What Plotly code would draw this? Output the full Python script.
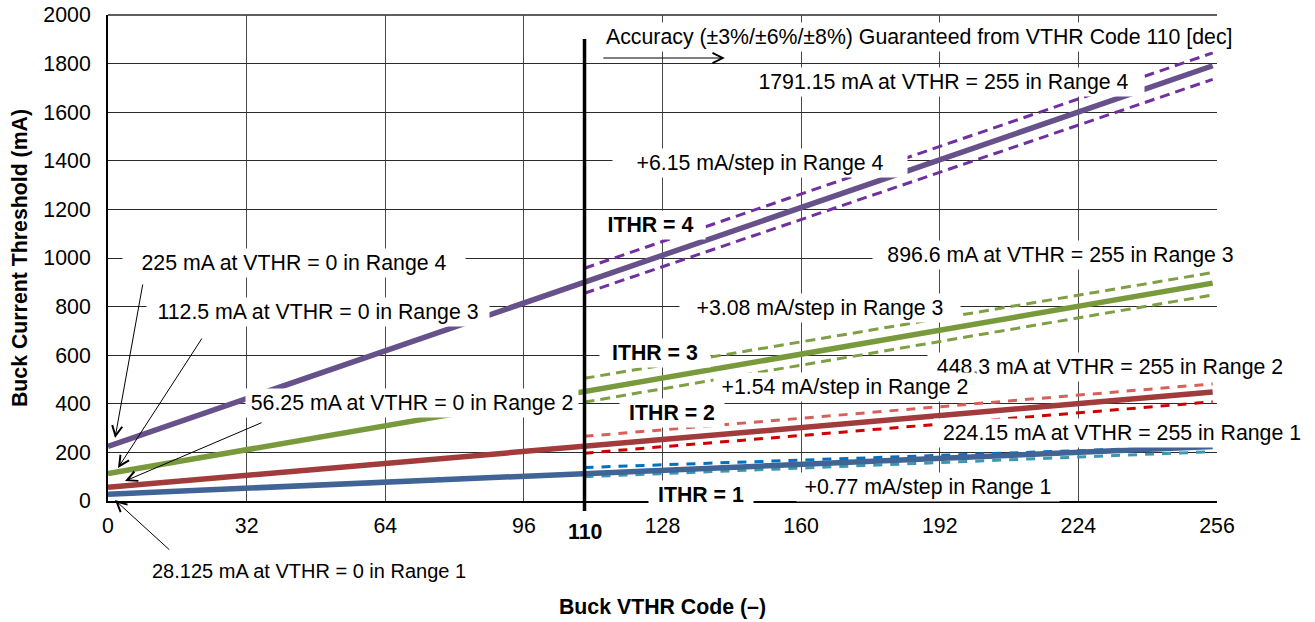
import plotly.graph_objects as go

# ---------------- data ----------------
x_full = [0, 255]
range1 = [28.125, 224.15]
range2 = [56.25, 448.3]
range3 = [112.5, 896.6]
range4 = [225, 1791.15]

x_acc = [110, 255]
range4_hi = [958, 1844]
range4_lo = [855, 1735]
range3_hi = [505, 940]
range3_lo = [407, 848]
range2_hi = [266, 482]
range2_lo = [197, 408]
range1_hi = [138, 226]
range1_lo = [100, 203]

x_ticks = [0, 32, 64, 96, 128, 160, 192, 224, 256]
y_ticks = list(range(0, 2001, 200))

FONT = "Arial, 'Liberation Sans', sans-serif"
FS = 21.3
GRID_H = "#2a2a2a"
GRID_V = "#4a4a4a"

fig = go.Figure()

# dashed accuracy bands
bands = [
    (range4_hi, "#7030A0", "10px,6px"),
    (range4_lo, "#7030A0", "10px,6px"),
    (range3_hi, "#7F9F45", "10px,6px"),
    (range3_lo, "#7F9F45", "10px,6px"),
    (range2_hi, "#D9605A", "9px,8px"),
    (range2_lo, "#D00000", "9px,8px"),
    (range1_hi, "#0070C0", "9px,8px"),
    (range1_lo, "#3C98B0", "9px,8px"),
]
for ys, col, dash in bands:
    fig.add_trace(go.Scatter(x=x_acc, y=ys, mode="lines",
                             line=dict(color=col, width=3, dash=dash),
                             showlegend=False, hoverinfo="skip"))

# solid typical lines
solids = [
    (range1, "#3F6495"),
    (range2, "#A23B3B"),
    (range3, "#789A3D"),
    (range4, "#67518A"),
]
for ys, col in solids:
    fig.add_trace(go.Scatter(x=x_full, y=ys, mode="lines",
                             line=dict(color=col, width=5.5),
                             showlegend=False, hoverinfo="skip"))

annotations = []

def label(text, x, y, width=None, bold=False, xanchor="center", yref="y", size=FS):
    d = dict(text=("<b>%s</b>" % text) if bold else text, x=x, y=y,
             xref="x", yref=yref, showarrow=False, xanchor=xanchor, yanchor="middle",
             font=dict(family=FONT, size=size, color="black"),
             bgcolor="white", borderpad=2)
    if width:
        d["width"] = width
    annotations.append(d)

def arrow(x, y, ax, ay):
    annotations.append(dict(text="", x=x, y=y, ax=ax, ay=ay, xref="x", yref="y",
                            axref="x", ayref="y", showarrow=True, arrowhead=5,
                            arrowsize=2, arrowwidth=1, arrowcolor="black", standoff=0))

# right-hand labels
label("1791.15 mA at VTHR = 255 in Range 4", 192.9, 1724, width=397)
label("+6.15 mA/step in Range 4", 150.5, 1391, width=290)
label("ITHR = 4", 125.2, 1136, width=105, bold=True)
label("896.6 mA at VTHR = 255 in Range 3", 219.9, 1012, width=371)
label("+3.08 mA/step in Range 3", 164.4, 794, width=276)
label("ITHR = 3", 126.3, 609, width=106, bold=True)
label("448.3 mA at VTHR = 255 in Range 2", 231.3, 551, width=360)
label("+1.54 mA/step in Range 2", 170.2, 469, width=258)
label("ITHR = 2", 130.3, 362, width=100, bold=True)
label("224.15 mA at VTHR = 255 in Range 1", 234.1, 280, width=372)
label("+0.77 mA/step in Range 1", 189.3, 58, width=258)
label("ITHR = 1", 136.9, 25, width=100, bold=True)

# left-hand labels
label("225 mA at VTHR = 0 in Range 4", 43.0, 979, width=338)
label("112.5 mA at VTHR = 0 in Range 3", 48.4, 778, width=338)
label("56.25 mA at VTHR = 0 in Range 2", 70.1, 403, width=328)
label("28.125 mA at VTHR = 0 in Range 1", 46.5, -0.144, yref="paper", size=20)

# accuracy note
label("Accuracy (±3%/±6%/±8%) Guaranteed from VTHR Code 110 [dec]", 114.3, 1909, xanchor="left")

# arrows
arrow(1.62, 259, 8.08, 897)
arrow(2.31, 136, 21.9, 675)
arrow(3.92, 82, 35.8, 325)
arrow(1.6, 4, 14.5, -206)
arrow(142.4, 1823, 114.0, 1823)

# bold 110 label under axis
annotations.append(dict(text="<b>110</b>", x=110, y=-0.0638, xref="x", yref="paper",
                        showarrow=False, xanchor="center", yanchor="middle",
                        font=dict(family=FONT, size=FS, color="black")))

fig.update_layout(
    width=1315, height=622,
    margin=dict(l=108, r=98, t=15, b=121),
    paper_bgcolor="white", plot_bgcolor="white",
    font=dict(family=FONT, size=FS, color="black"),
    annotations=annotations,
    shapes=[
        dict(type="line", xref="paper", yref="paper", x0=0, x1=1, y0=1, y1=1,
             layer="below", line=dict(color=GRID_H, width=1.3)),
        dict(type="line", xref="x", yref="paper", x0=110, x1=110,
             y0=-0.0206, y1=0.9506, line=dict(color="black", width=3.5)),
    ],
    xaxis=dict(range=[0, 256], tickvals=x_ticks, ticktext=[str(v) for v in x_ticks],
               showgrid=True, gridcolor=GRID_V, gridwidth=1.3,
               showline=True, linecolor="black", linewidth=2, zeroline=False,
               ticks="", ticklabelstandoff=4, automargin=False,
               ticklabeloverflow="allow",
               tickfont=dict(family=FONT, size=FS, color="black"),
               title=dict(text="<b>Buck VTHR Code (–)</b>", standoff=63,
                          font=dict(family=FONT, size=FS, color="black"))),
    yaxis=dict(range=[0, 2000], tickvals=y_ticks,
               showgrid=True, gridcolor=GRID_H, gridwidth=1.3,
               showline=True, linecolor="black", linewidth=2, zeroline=False,
               ticks="", ticklabelstandoff=11, automargin=False,
               ticklabeloverflow="allow",
               tickfont=dict(family=FONT, size=FS, color="black"),
               title=dict(text="<b>Buck Current Threshold (mA)</b>", standoff=10,
                          font=dict(family=FONT, size=FS, color="black"))),
)

fig.write_html("out.html", config={"displayModeBar": False},
               post_script="document.body.style.margin='0';document.body.style.overflow='hidden';")
